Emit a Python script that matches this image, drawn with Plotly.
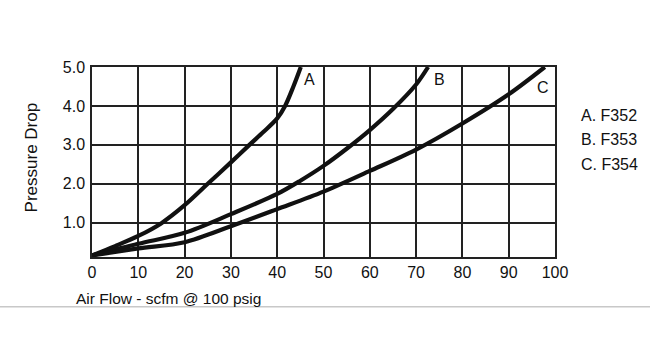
import plotly.graph_objects as go

FONT = "Liberation Sans, Arial, sans-serif"

# Air flow (scfm) and pressure drop values
a_x = [0, 5, 10, 15, 20, 25, 30, 34, 37, 40, 41.7, 43.5, 45.1]
a_y = [0.16, 0.4, 0.66, 0.99, 1.45, 2.0, 2.55, 3.0, 3.33, 3.68, 4.0, 4.5, 5.0]

b_x = [0, 10, 20, 30, 40, 45, 50, 55, 60, 65, 70, 72.6]
b_y = [0.16, 0.46, 0.74, 1.22, 1.74, 2.08, 2.46, 2.9, 3.38, 3.92, 4.55, 5.0]

c_x = [0, 10, 20, 30, 40, 50, 60, 70, 80, 90, 97.8]
c_y = [0.16, 0.34, 0.5, 0.91, 1.35, 1.8, 2.33, 2.88, 3.55, 4.3, 5.0]

curve_labels = ["A", "B", "C"]
label_x = [46.9, 75.0, 97.5]
label_y = [4.69, 4.68, 4.48]

legend_lines = ["A. F352", "B. F353", "C. F354"]

x_ticks = list(range(0, 101, 10))
y_ticks = [1.0, 2.0, 3.0, 4.0, 5.0]

fig = go.Figure()
for xs, ys in [(a_x, a_y), (b_x, b_y), (c_x, c_y)]:
    fig.add_trace(go.Scatter(x=xs, y=ys, mode="lines",
                             line=dict(color="#111111", width=4.2, shape="spline", smoothing=0.9),
                             showlegend=False, hoverinfo="skip"))

for t, lx, ly in zip(curve_labels, label_x, label_y):
    fig.add_annotation(x=lx, y=ly, text=t, showarrow=False, xanchor="center", yanchor="middle",
                       font=dict(family=FONT, size=16, color="#111111"))

for i, t in enumerate(legend_lines):
    fig.add_annotation(xref="paper", yref="paper", x=1.052, y=0.747 - i * 0.129, text=t,
                       showarrow=False, xanchor="left", yanchor="middle",
                       font=dict(family=FONT, size=16, color="#111111"))

# axis titles
fig.add_annotation(xref="paper", yref="paper", x=-0.039, y=-0.216, text="Air Flow - scfm @ 100 psig",
                   showarrow=False, xanchor="left", yanchor="middle",
                   font=dict(family=FONT, size=15.5, color="#111111"))
fig.add_annotation(xref="paper", yref="paper", x=-0.130, y=0.523, text="Pressure Drop",
                   showarrow=False, xanchor="center", yanchor="middle", textangle=-90,
                   font=dict(family=FONT, size=17, color="#111111"))

# light separator line near the bottom
fig.add_shape(type="line", xref="paper", yref="paper", x0=-0.2, x1=1.21, y0=-0.262, y1=-0.262,
              line=dict(color="#c8c8c8", width=1.5))

fig.update_layout(
    width=650, height=358,
    margin=dict(l=92, r=95, t=67, b=101, autoexpand=False),
    paper_bgcolor="white", plot_bgcolor="white",
    font=dict(family=FONT, size=16, color="#111111"),
    xaxis=dict(range=[0, 100], tickvals=x_ticks, ticktext=[str(v) for v in x_ticks],
               showgrid=True, gridcolor="#222222", gridwidth=1.5, zeroline=False,
               showline=True, linecolor="#222222", linewidth=1.5, mirror=True,
               ticks="", tickfont=dict(family=FONT, size=16, color="#111111")),
    yaxis=dict(range=[0.12, 5.0], tickvals=y_ticks, ticktext=[f"{v:.1f}" for v in y_ticks],
               showgrid=True, gridcolor="#222222", gridwidth=1.5, zeroline=False,
               showline=True, linecolor="#222222", linewidth=1.5, mirror=True,
               ticks="", ticklabelstandoff=2, tickfont=dict(family=FONT, size=16, color="#111111")),
)

fig.write_html("out.html", config={"displayModeBar": False},
               post_script="document.body.style.margin='0px';")
